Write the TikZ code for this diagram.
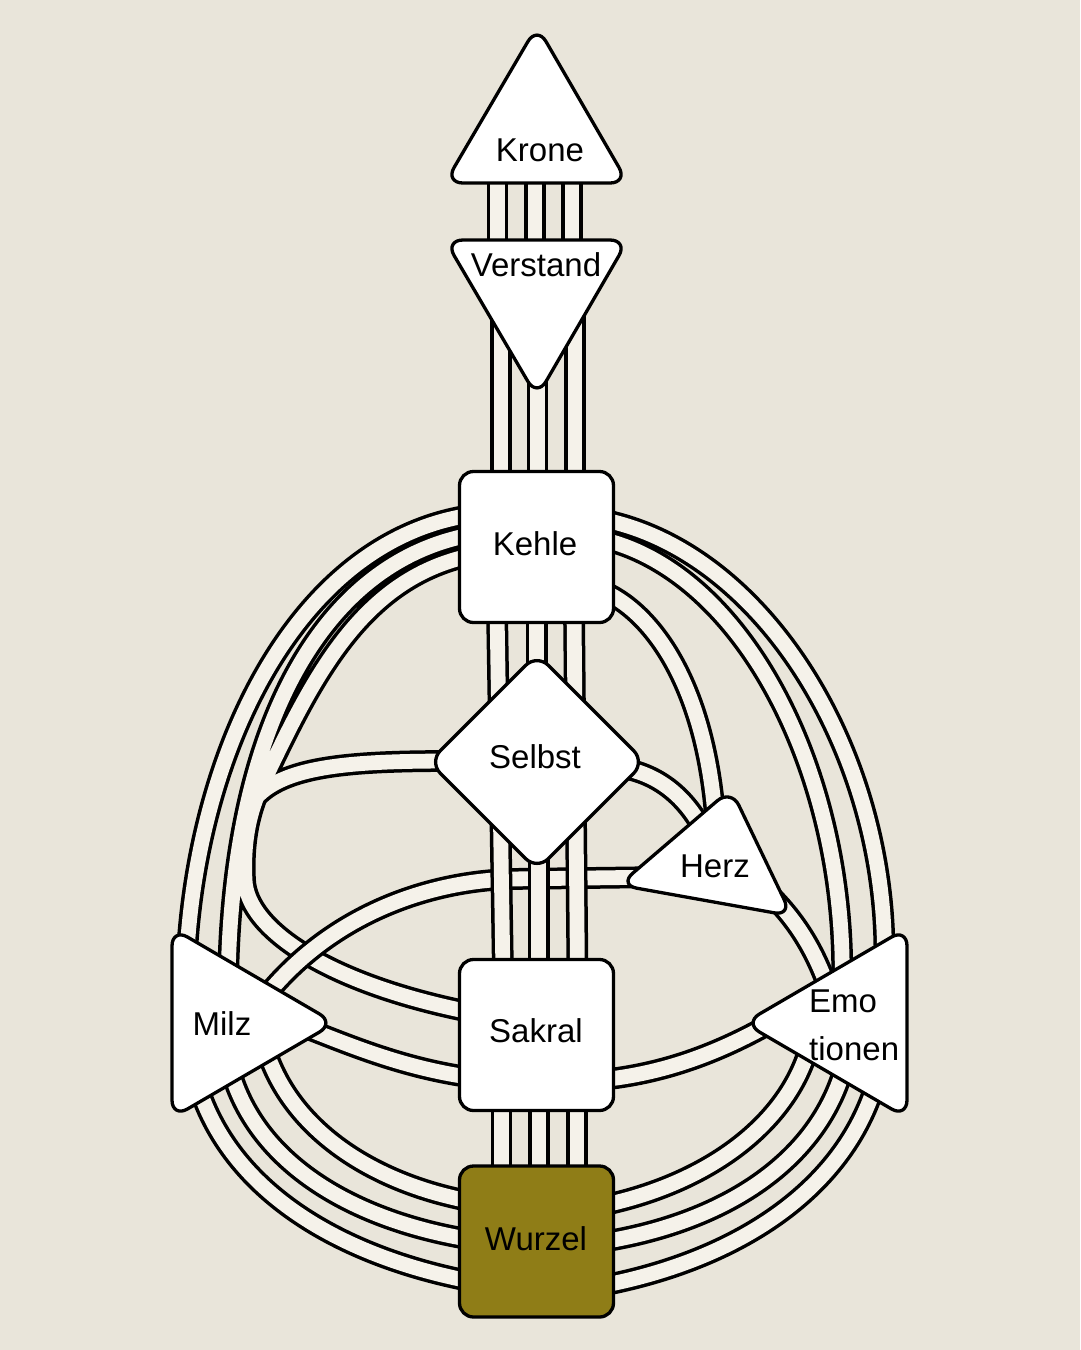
\documentclass[tikz,border=0pt]{standalone}
\usepackage{fontspec}
\setmainfont{Liberation Sans}
\usetikzlibrary{calc,shapes.geometric}
\pgfdeclarelayer{back}
\pgfdeclarelayer{mid}
\pgfsetlayers{back,mid,main}
\definecolor{bgc}{RGB}{233,229,218}
\definecolor{creamc}{RGB}{245,242,234}
\definecolor{olivec}{RGB}{143,125,23}
\begin{document}
\begin{tikzpicture}[x=1pt,y=-1pt,
  chan/.style={draw=black,line width=3.5pt,double=creamc,double distance=14.8pt},
  shp/.style={draw=black,line width=3.3pt,fill=white,line join=round},
  box/.style={shp,rectangle,rounded corners=14pt,minimum width=154pt,minimum height=151pt,inner sep=0pt,outer sep=0pt},
  tri/.style={shp,rounded corners=18pt},
  lbl/.style={font=\fontsize{33}{40}\selectfont,inner sep=0pt,text=black}]
\begin{pgfonlayer}{back}
\fill[bgc] (0,0) rectangle (1080,1350);
\end{pgfonlayer}
\useasboundingbox (0,0) rectangle (1080,1350);

% ---------- centres (shapes) ----------
\node[box] (kehle) at (536.5,547) {};
\node[box] (sakral) at (536.5,1035) {};
\node[box,fill=olivec] (wurzel) at (536.5,1241.5) {};
\node[shp,diamond,rounded corners=16pt,minimum width=216pt,minimum height=216pt,inner sep=0pt,outer sep=0pt] (selbst) at (537,762) {};
\coordinate (krone) at (536.7,130.7);
\coordinate (verstand) at (536.7,292.3);
\coordinate (milz) at (226.3,1023);
\coordinate (emo) at (852.7,1023);
\coordinate (herz) at (714,863.3);
\coordinate (jn) at (254,800);

\draw[tri] (537,26) -- (628,183) -- (445,183) -- cycle;
\draw[tri] (445,240) -- (628,240) -- (537,397) -- cycle;
\draw[tri] (172,928) -- (335,1023) -- (172,1118) -- cycle;
\draw[tri] (907,928) -- (907,1118) -- (744,1023) -- cycle;
\draw[tri] (731,789) -- (792,916) -- (619,885) -- cycle;

% ---------- channels ----------
\begin{pgfonlayer}{mid}
% Milz - Wurzel
\draw[chan] ($(milz)+(35.7,12)$) .. controls (282,1125) and (370,1185) .. ($(wurzel)+(-56.5,-38.5)$);
\draw[chan] ($(milz)+(1.7,37)$) .. controls (250,1160) and (350,1222) .. ($(wurzel)+(-56.5,-0.5)$);
\draw[chan] ($(milz)+(-31.3,52)$) .. controls (225,1190) and (340,1258) .. ($(wurzel)+(-56.5,41.5)$);
% Emotionen - Wurzel
\draw[chan] ($(emo)+(-40.7,12)$) .. controls (795,1120) and (710,1185) .. ($(wurzel)+(58.5,-34.5)$);
\draw[chan] ($(emo)+(-6.7,37)$) .. controls (822,1160) and (725,1224) .. ($(wurzel)+(58.5,1.5)$);
\draw[chan] ($(emo)+(25.3,52)$) .. controls (848,1190) and (735,1262) .. ($(wurzel)+(58.5,45.5)$);
% Milz - Sakral
\draw[chan] ($(milz)+(68.7,1)$) .. controls (345,1043) and (400,1068) .. ($(sakral)+(-61.5,43)$);
% Sakral - Emotionen
\draw[chan] ($(sakral)+(63.5,45)$) .. controls (660,1074) and (720,1055) .. ($(emo)+(-62.7,-11)$);
% Herz - Emotionen
\draw[chan] ($(herz)+(46,21.7)$) .. controls (790,912) and (815,945) .. ($(emo)+(-20.7,-23)$);
% Selbst - Herz
\draw[chan] ($(selbst)+(78,5)$) .. controls (660,772) and (690,800) .. ($(herz)+(-6,-23.3)$);
% Kehle - Emotionen, Kehle - Herz
\draw[chan] ($(kehle)+(68.5,-27)$) .. controls (770,555) and (893,765) .. ($(emo)+(31.3,-48)$);
\draw[chan] ($(kehle)+(68.5,-7)$) .. controls (745,575) and (848,775) .. ($(emo)+(-10.7,-33)$);
\draw[chan] ($(kehle)+(68.5,45)$) .. controls (655,615) and (708,690) .. ($(herz)+(2,-33.3)$);
% Kehle - Milz (outer)
\draw[chan] ($(kehle)+(-71.5,-31)$) .. controls (292,546) and (192,760) .. ($(milz)+(-40.3,-48)$);
% Kehle - Milz, Kehle - Sakral, Selbst junction
\draw[chan] ($(kehle)+(-71.5,-11)$) .. controls (315,568) and (228,740) .. ($(milz)+(1.7,-28)$)
  ($(kehle)+(-67.5,9)$) .. controls (360,580) and (312,680) .. (262,785)
     .. controls (250,810) and (243,840) .. (245,880)
     .. controls (247,930) and (330,985) .. ($(sakral)+(-61.5,-22)$)
  ($(selbst)+(-85,-1)$) .. controls (350,761) and (282,766) .. (jn);
% Milz - Herz
\draw[chan] ($(milz)+(28.7,-13)$) .. controls (320,920) and (420,882) .. (510,879) -- ($(herz)+(-49,13.7)$);
% verticals
\draw[chan] ($(krone)+(-39.2,39.3)$) -- ($(verstand)+(-39.2,-32.3)$);
\draw[chan] ($(krone)+(-1.7,39.3)$) -- ($(verstand)+(-1.7,-32.3)$);
\draw[chan] ($(krone)+(35.3,39.3)$) -- ($(verstand)+(35.3,-32.3)$);
\draw[chan] ($(verstand)+(-35.7,7.7)$) -- ($(kehle)+(-35.5,-62)$);
\draw[chan] ($(verstand)+(0.8,77.7)$) -- ($(kehle)+(1,-62)$);
\draw[chan] ($(verstand)+(38.3,7.7)$) -- ($(kehle)+(38.5,-62)$);
\draw[chan] ($(kehle)+(-39.5,63)$) -- ($(sakral)+(-33.5,-60)$);
\draw[chan] ($(kehle)+(37.5,63)$) -- ($(sakral)+(41,-60)$);
\draw[chan] ($(kehle)+(0.2,63)$) -- ($(selbst)+(-0.3,-72)$);
\draw[chan] ($(selbst)+(1.8,68)$) -- ($(sakral)+(2.3,-60)$);
\draw[chan] ($(sakral)+(-35,65)$) -- ($(wurzel)+(-35,-61.5)$);
\draw[chan] ($(sakral)+(2.5,65)$) -- ($(wurzel)+(2.5,-61.5)$);
\draw[chan] ($(sakral)+(40.5,65)$) -- ($(wurzel)+(40.5,-61.5)$);
\end{pgfonlayer}

% ---------- labels ----------
\node[lbl] (kroneT) at (540,150) {Krone};
\node[lbl] (verstandT) at (536,265) {Verstand};
\node[lbl] (kehleT) at (535,544) {Kehle};
\node[lbl] (selbstT) at (535,757) {Selbst};
\node[lbl] (herzT) at (715,866) {Herz};
\node[lbl] (milzT) at (222,1024) {Milz};
\node[lbl] (sakralT) at (536,1031) {Sakral};
\node[lbl] (wurzelT) at (536,1239) {Wurzel};
\node[lbl,anchor=west] (emoT1) at (809,1001) {Emo};
\node[lbl,anchor=west] (emoT2) at (809,1049) {tionen};
\end{tikzpicture}
\end{document}
